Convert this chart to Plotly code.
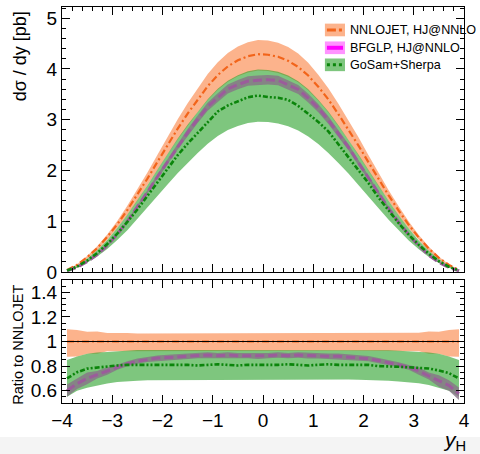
import plotly.graph_objects as go

# ---------------- data ----------------
y_H = [-3.9, -3.7, -3.5, -3.3, -3.1, -2.9, -2.7, -2.5, -2.3, -2.1,
       -1.9, -1.7, -1.5, -1.3, -1.1, -0.9, -0.7, -0.5, -0.3, -0.1,
       0.1, 0.3, 0.5, 0.7, 0.9, 1.1, 1.3, 1.5, 1.7, 1.9,
       2.1, 2.3, 2.5, 2.7, 2.9, 3.1, 3.3, 3.5, 3.7, 3.9]

nnlojet_c = [0.04, 0.14, 0.29, 0.47, 0.69, 0.94, 1.22, 1.52, 1.84, 2.17,
             2.50, 2.82, 3.12, 3.40, 3.66, 3.88, 4.05, 4.17, 4.25, 4.29,
             4.28, 4.24, 4.16, 4.04, 3.87, 3.65, 3.40, 3.11, 2.81, 2.49,
             2.16, 1.83, 1.51, 1.21, 0.93, 0.68, 0.46, 0.28, 0.14, 0.04]
nnlojet_hi = [0.044, 0.153, 0.313, 0.508, 0.738, 1.006, 1.305, 1.619, 1.960, 2.311,
              2.663, 3.003, 3.323, 3.621, 3.898, 4.132, 4.313, 4.441, 4.526, 4.569,
              4.558, 4.516, 4.430, 4.303, 4.122, 3.887, 3.621, 3.312, 2.993, 2.652,
              2.300, 1.949, 1.608, 1.295, 0.995, 0.728, 0.497, 0.302, 0.153, 0.044]
nnlojet_lo = [0.035, 0.123, 0.261, 0.423, 0.635, 0.865, 1.122, 1.406, 1.702, 2.007,
              2.313, 2.609, 2.886, 3.145, 3.386, 3.589, 3.746, 3.857, 3.931, 3.968,
              3.959, 3.922, 3.848, 3.737, 3.580, 3.376, 3.145, 2.877, 2.599, 2.303,
              1.998, 1.693, 1.397, 1.113, 0.856, 0.626, 0.414, 0.252, 0.123, 0.035]

bfglp_c = [0.024, 0.092, 0.203, 0.343, 0.524, 0.743, 1.000, 1.277, 1.573, 1.877,
           2.175, 2.468, 2.746, 3.009, 3.257, 3.434, 3.605, 3.690, 3.761, 3.775,
           3.788, 3.774, 3.682, 3.596, 3.425, 3.230, 2.992, 2.737, 2.459, 2.154,
           1.858, 1.546, 1.253, 0.980, 0.735, 0.517, 0.331, 0.190, 0.090, 0.023]
bfglp_hi = [0.026, 0.098, 0.217, 0.357, 0.545, 0.762, 1.025, 1.309, 1.612, 1.924,
            2.229, 2.530, 2.815, 3.084, 3.338, 3.520, 3.695, 3.782, 3.855, 3.869,
            3.883, 3.868, 3.774, 3.686, 3.511, 3.311, 3.067, 2.805, 2.520, 2.208,
            1.904, 1.585, 1.284, 1.005, 0.753, 0.538, 0.344, 0.203, 0.096, 0.025]
bfglp_lo = [0.022, 0.086, 0.189, 0.329, 0.503, 0.724, 0.975, 1.245, 1.534, 1.830,
            2.121, 2.406, 2.677, 2.934, 3.176, 3.348, 3.515, 3.598, 3.667, 3.681,
            3.693, 3.680, 3.590, 3.506, 3.339, 3.149, 2.917, 2.669, 2.398, 2.100,
            1.812, 1.507, 1.222, 0.956, 0.717, 0.496, 0.318, 0.177, 0.084, 0.021]

gosam_c = [0.028, 0.105, 0.226, 0.371, 0.552, 0.757, 0.988, 1.231, 1.500, 1.758,
           2.025, 2.298, 2.527, 2.737, 2.965, 3.162, 3.281, 3.357, 3.443, 3.475,
           3.445, 3.434, 3.390, 3.272, 3.115, 2.957, 2.771, 2.519, 2.276, 2.004,
           1.750, 1.464, 1.208, 0.962, 0.735, 0.534, 0.359, 0.214, 0.104, 0.028]
gosam_hi = [0.034, 0.123, 0.261, 0.428, 0.631, 0.865, 1.129, 1.414, 1.711, 2.018,
            2.325, 2.623, 2.902, 3.162, 3.404, 3.608, 3.767, 3.878, 3.953, 3.990,
            3.980, 3.943, 3.869, 3.757, 3.599, 3.395, 3.162, 2.892, 2.613, 2.316,
            2.009, 1.702, 1.404, 1.119, 0.856, 0.622, 0.419, 0.252, 0.123, 0.034]
gosam_lo = [0.022, 0.084, 0.181, 0.303, 0.455, 0.630, 0.824, 1.034, 1.260, 1.497,
            1.725, 1.946, 2.153, 2.346, 2.525, 2.677, 2.795, 2.877, 2.933, 2.960,
            2.953, 2.926, 2.870, 2.788, 2.670, 2.519, 2.346, 2.146, 1.939, 1.718,
            1.490, 1.254, 1.027, 0.817, 0.623, 0.449, 0.297, 0.175, 0.084, 0.022]

series_names = ["NNLOJET, HJ@NNLO", "BFGLP, HJ@NNLO", "GoSam+Sherpa"]
x_ticks = [-4, -3, -2, -1, 0, 1, 2, 3, 4]
y_ticks_top = [0, 1, 2, 3, 4, 5]
y_ticks_ratio = [0.6, 0.8, 1.0, 1.2, 1.4]
y_ticktext_ratio = ["0.6", "0.8", "1", "1.2", "1.4"]

# ---------------- styles ----------------
FONT = "Liberation Sans, Arial, Helvetica, sans-serif"
OR_BAND = "rgba(250,128,64,0.6)"
OR_LINE = "#f2641a"
GR_BAND = "rgba(40,160,40,0.6)"
GR_LINE = "#0b850b"
BF_BAND = "rgba(135,115,135,0.8)"
BF_LINE = "#9b5c9b"
MAG_BAND = "rgba(255,120,255,0.8)"
MAG_LINE = "#ff00ff"

ND = "7px,3px,2px,3px"
GD = "5px,2px,2px,2px,2px,2px"
BD = "9px,4px"


def ratio(arr):
    return [a / c for a, c in zip(arr, nnlojet_c)]


fig = go.Figure()


def band(lo, hi, color, xa, ya):
    fig.add_trace(go.Scatter(x=y_H + y_H[::-1], y=hi + lo[::-1], fill="toself",
                             fillcolor=color, line=dict(width=0), mode="lines",
                             showlegend=False, hoverinfo="skip", xaxis=xa, yaxis=ya))


def line(vals, color, dash, width, xa, ya):
    fig.add_trace(go.Scatter(x=y_H, y=vals, mode="lines",
                             line=dict(color=color, dash=dash, width=width),
                             showlegend=False, xaxis=xa, yaxis=ya))


for xa, ya, conv in [("x", "y", lambda a: a), ("x2", "y2", ratio)]:
    band(conv(nnlojet_lo), conv(nnlojet_hi), OR_BAND, xa, ya)
    band(conv(gosam_lo), conv(gosam_hi), GR_BAND, xa, ya)
    band(conv(bfglp_lo), conv(bfglp_hi), BF_BAND, xa, ya)
    line(conv(nnlojet_c), OR_LINE, ND, 2.2, xa, ya)
    line(conv(bfglp_c), BF_LINE, BD, 3, xa, ya)
    line(conv(gosam_c), GR_LINE, GD, 2.6, xa, ya)

axis_common = dict(ticks="inside", showline=True, mirror="ticks", linecolor="black",
                   linewidth=1, tickcolor="black", showgrid=False, zeroline=False,
                   tickfont=dict(family=FONT, size=19, color="black"))

fig.update_layout(
    width=480, height=454,
    margin=dict(l=62, r=16, t=7, b=51),
    paper_bgcolor="white", plot_bgcolor="white",
    font=dict(family=FONT, color="black"),
    showlegend=False,
    xaxis=dict(domain=[0, 1], range=[-4, 4], anchor="y", tickvals=x_ticks,
               showticklabels=False, ticklen=8,
               minor=dict(ticks="inside", dtick=0.2, ticklen=4, tickcolor="black"),
               **axis_common),
    yaxis=dict(domain=[0.3308, 1], range=[0, 5.22], anchor="x", tickvals=y_ticks_top,
               ticklen=8,
               minor=dict(ticks="inside", dtick=0.2, ticklen=4, tickcolor="black"),
               **axis_common),
    xaxis2=dict(domain=[0, 1], range=[-4, 4], anchor="y2", tickvals=x_ticks,
                ticklen=8,
                minor=dict(ticks="inside", dtick=0.2, ticklen=4, tickcolor="black"),
                **axis_common),
    yaxis2=dict(domain=[0, 0.3106], range=[0.5, 1.5], anchor="x2",
                tickvals=y_ticks_ratio, ticktext=y_ticktext_ratio, ticklen=8,
                minor=dict(ticks="inside", dtick=0.05, ticklen=4, tickcolor="black"),
                **axis_common),
)

# ratio reference line and bottom strip
fig.add_shape(type="line", xref="x2", yref="y2", x0=-4, x1=4, y0=1, y1=1,
              line=dict(color="black", width=1), layer="above")
fig.add_shape(type="rect", xref="paper", yref="paper", x0=-0.2, x1=1.2,
              y0=-0.14, y1=-0.086, fillcolor="#f4f4f4", line=dict(width=0), layer="below")

# manual legend (ROOT style: band swatch with line through)
leg_x0, leg_x1, leg_tx = 0.654, 0.704, 0.712
leg_rows = [0.942, 0.897, 0.854]
leg_h = 0.016
leg_styles = [(OR_BAND, OR_LINE, "dashdot", 3), (MAG_BAND, MAG_LINE, "solid", 4),
              (GR_BAND, GR_LINE, "dot", 3)]
for name, yc, (fc, lc, dash, lw) in zip(series_names, leg_rows, leg_styles):
    fig.add_shape(type="rect", xref="paper", yref="paper", x0=leg_x0, x1=leg_x1,
                  y0=yc - leg_h, y1=yc + leg_h, fillcolor=fc, line=dict(width=0))
    fig.add_shape(type="line", xref="paper", yref="paper", x0=leg_x0 + 0.005, x1=leg_x1 - 0.005,
                  y0=yc, y1=yc, line=dict(color=lc, width=lw, dash=dash))
    fig.add_annotation(text=name, xref="paper", yref="paper", x=leg_tx, y=yc,
                       xanchor="left", yanchor="middle", showarrow=False,
                       font=dict(family=FONT, size=12.6, color="black"))

fig.add_annotation(text="dσ / dy [pb]", xref="paper", yref="paper", x=-0.105, y=0.875,
                   textangle=-90, showarrow=False, xanchor="center", yanchor="middle",
                   font=dict(family=FONT, size=18))
fig.add_annotation(text="Ratio to NNLOJET", xref="paper", yref="paper", x=-0.108, y=0.146,
                   textangle=-90, showarrow=False, xanchor="center", yanchor="middle",
                   font=dict(family=FONT, size=14.5))
fig.add_annotation(text="<i>y</i><sub>H</sub>", xref="paper", yref="paper", x=0.976, y=-0.095,
                   showarrow=False, xanchor="center", yanchor="middle",
                   font=dict(family=FONT, size=21))

fig.write_html("out.html")
